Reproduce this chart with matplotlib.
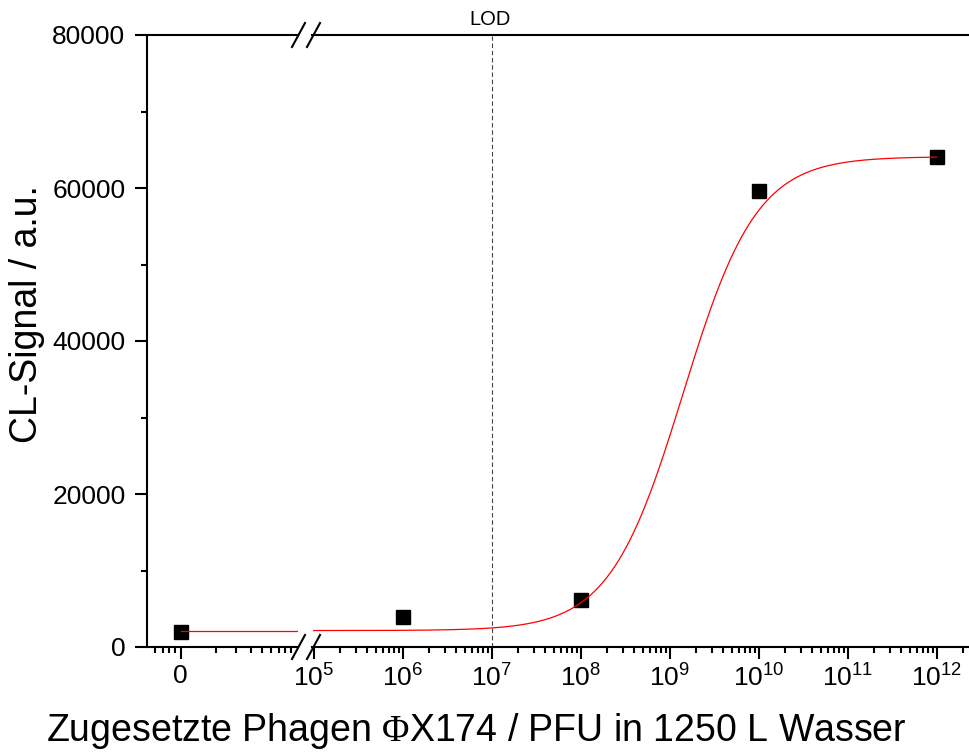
import numpy as np
import matplotlib
matplotlib.use("Agg")
import matplotlib.pyplot as plt
from matplotlib.lines import Line2D
from matplotlib.ticker import (FixedLocator, FixedFormatter, NullFormatter,
                               LogLocator, LogFormatterSciNotation)

plt.rcParams['font.family'] = ['Liberation Sans', 'DejaVu Sans']
plt.rcParams['mathtext.fontset'] = 'custom'
plt.rcParams['mathtext.rm'] = 'Liberation Sans'
plt.rcParams['mathtext.it'] = 'Liberation Sans:italic'
plt.rcParams['mathtext.tt'] = 'Liberation Serif'

# Measured CL signal vs. added phage count
concentration = [0, 1e6, 1e8, 1e10, 1e12]
cl_signal = [2000, 3900, 6100, 59650, 64000]

# Dose-response (logistic) fit parameters
fit_bottom = 2150
fit_top = 64100
fit_log_x0 = 9.15
fit_hill = 1.05

lod = 1e7
zero_position = 1.0          # where the "0" sample sits on the left segment
y_ticks = [0, 20000, 40000, 60000, 80000]
y_minor = [10000, 30000, 50000, 70000]
left_minor = [0.6, 0.7, 0.8, 0.9, 2, 3, 4, 5, 6, 7, 8, 9]

W, H = 969, 754
fig = plt.figure(figsize=(W / 100, H / 100), dpi=100)


def fx(px):
    return px / W


def fy(py):
    return 1 - py / H


top_px, bot_px = 35, 647
h = (bot_px - top_px) / H
ax_l = fig.add_axes([fx(147), fy(bot_px), (298 - 147) / W, h])
ax_r = fig.add_axes([fx(312), fy(bot_px), (W - 312) / W, h])

lw_spine = 1.5
for ax in (ax_l, ax_r):
    ax.set_xscale('log')
    ax.set_ylim(0, 80000)
    for s in ax.spines.values():
        s.set_linewidth(lw_spine)
    ax.spines['right'].set_visible(False)
    ax.tick_params(axis='both', which='major', direction='out', length=8.5,
                   width=1.5, labelsize=19, top=False, right=False)
    ax.tick_params(axis='both', which='minor', direction='out', length=4.5,
                   width=1.5, top=False, right=False)
    ax.tick_params(axis='x', which='major', pad=4)
    ax.tick_params(axis='y', which='major', pad=7)

# Left segment: the zero sample
dec_l = 116.0
ax_l.set_xlim(10 ** (-(180.7 - 147) / dec_l), 10 ** ((298 - 180.7) / dec_l))
ax_l.xaxis.set_major_locator(FixedLocator([zero_position]))
ax_l.xaxis.set_major_formatter(FixedFormatter(['0']))
ax_l.xaxis.set_minor_locator(FixedLocator(left_minor))
ax_l.xaxis.set_minor_formatter(NullFormatter())
ax_l.yaxis.set_major_locator(FixedLocator(y_ticks))
ax_l.yaxis.set_minor_locator(FixedLocator(y_minor))
ax_l.yaxis.set_major_formatter(FixedFormatter([str(v) for v in y_ticks]))

# Right segment: log scale of phage counts
dec_r = 89.0
ax_r.set_xlim(10 ** (5 - (313.7 - 312) / dec_r), 10 ** (12 + (W - 936.7) / dec_r))
ax_r.spines['left'].set_visible(False)
ax_r.tick_params(axis='y', which='both', left=False, labelleft=False)
ax_r.xaxis.set_major_locator(LogLocator(base=10, numticks=20))
ax_r.xaxis.set_major_formatter(LogFormatterSciNotation())
ax_r.xaxis.set_minor_locator(LogLocator(base=10, subs=np.arange(2, 10), numticks=20))
ax_r.xaxis.set_minor_formatter(NullFormatter())

# Fit curve
logx = np.linspace(5, 12, 500)
fit_y = fit_bottom + (fit_top - fit_bottom) / (1 + 10 ** (fit_hill * (fit_log_x0 - logx)))
ax_r.plot(10 ** logx, fit_y, color='red', lw=0.9, zorder=4)
ax_l.plot([zero_position, ax_l.get_xlim()[1]], [fit_bottom, fit_bottom],
          color='red', lw=0.9, zorder=4)

# Data points
ax_l.plot([zero_position], cl_signal[:1], 's', color='black', ms=9.6, zorder=3)
ax_r.plot(concentration[1:], cl_signal[1:], 's', color='black', ms=9.6, zorder=3)

# Limit of detection
ax_r.axvline(lod, color='#444444', lw=0.8, ls=(0, (4, 2.5)), zorder=2)
ax_r.annotate('LOD', xy=(lod, 1), xycoords=('data', 'axes fraction'),
              xytext=(-1.5, 7), textcoords='offset points', ha='center',
              va='baseline', fontsize=14.5)

# Axis break marks on bottom and top spines
for yb in (bot_px, top_px):
    for x0 in (292, 307):
        fig.add_artist(Line2D([fx(x0), fx(x0 + 13)], [fy(yb + 12), fy(yb - 12)],
                              color='black', lw=lw_spine, transform=fig.transFigure))

fig.text(fx(27), fy(314), 'CL-Signal / a.u.', rotation=90, ha='center',
         va='center', fontsize=27)
fig.text(fx(476), fy(741), r'Zugesetzte Phagen $\mathtt{\Phi}$X174 / PFU in 1250 L Wasser',
         ha='center', va='baseline', fontsize=27)

fig.savefig('out.png', dpi=100)
